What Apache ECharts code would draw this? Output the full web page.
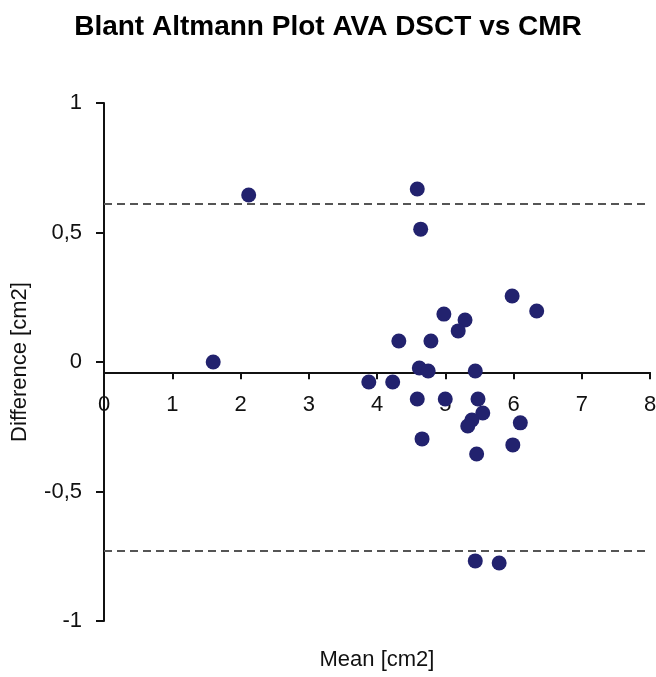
<!DOCTYPE html>
<html>
<head>
<meta charset="utf-8">
<script src="https://cdn.jsdelivr.net/npm/echarts@6/dist/echarts.min.js"></script>
<style>html,body{margin:0;padding:0;background:#fff}#c{width:656px;height:677px}</style>
</head>
<body>
<div id="c"></div>
<script>
var meanValues = [1.60, 2.12, 4.59, 4.64, 5.98, 6.34, 4.98, 5.29, 5.19, 4.32, 4.79, 4.62, 4.75, 5.44, 3.88, 4.23, 4.59, 5.00, 5.48, 5.55, 5.39, 5.33, 6.10, 4.66, 5.99, 5.46, 5.44, 5.79];
var diffValues = [0.00, 0.645, 0.668, 0.513, 0.255, 0.197, 0.185, 0.162, 0.12, 0.081, 0.081, -0.023, -0.035, -0.035, -0.077, -0.077, -0.143, -0.143, -0.143, -0.197, -0.224, -0.247, -0.235, -0.297, -0.32, -0.355, -0.768, -0.776];
var meanDiff = -0.04;
var upperLimit = 0.615;
var lowerLimit = -0.735;
var xTicks = [0, 1, 2, 3, 4, 5, 6, 7, 8];
var yTicks = ['-1', '-0,5', '0', '0,5', '1'];

var points = meanValues.map(function (m, i) { return [m, diffValues[i]]; });
var font = 'Liberation Sans, Arial, sans-serif';
var chart = echarts.init(document.getElementById('c'));
var hidden = { axisLine: { show: false }, axisTick: { show: false }, axisLabel: { show: false }, splitLine: { show: false } };

chart.setOption({
  animation: false,
  title: {
    text: 'Blant Altmann Plot AVA DSCT vs CMR',
    left: 'center', top: 8,
    textStyle: { fontFamily: font, fontWeight: 'bold', fontSize: 28, color: '#000' }
  },
  grid: [
    { left: 104, top: 103, width: 546, height: 518, containLabel: false, outerBoundsMode: 'none' },
    { left: 104, top: 372, width: 546, height: 1, containLabel: false, outerBoundsMode: 'none' }
  ],
  xAxis: [{
    gridIndex: 0, type: 'value', min: 0, max: 8, interval: 1,
    axisLine: { show: false }, axisTick: { show: false }, axisLabel: { show: false }, splitLine: { show: false },
    name: 'Mean [cm2]', nameLocation: 'middle', nameGap: 28,
    nameTextStyle: { fontFamily: font, fontSize: 22, color: '#111' }
  }, {
    gridIndex: 1, type: 'value', min: 0, max: 8, interval: 1, position: 'bottom',
    axisLine: { show: true, onZero: false, lineStyle: { color: '#111', width: 2 } },
    axisTick: { show: true, inside: false, length: 7, lineStyle: { color: '#111', width: 2 } },
    axisLabel: { fontFamily: font, fontSize: 22, color: '#111', margin: 22,
      formatter: function (v) { return xTicks.indexOf(v) >= 0 ? String(v) : ''; } },
    splitLine: { show: false }
  }],
  yAxis: [{
    gridIndex: 0, type: 'value', min: -1, max: 1, interval: 0.5,
    axisLine: { show: true, onZero: false, lineStyle: { color: '#111', width: 2 } },
    axisTick: { show: true, length: 8, lineStyle: { color: '#111', width: 2 } },
    axisLabel: { fontFamily: font, fontSize: 22, color: '#111', margin: 22,
      formatter: function (v) { var s = String(v).replace('.', ','); return yTicks.indexOf(s) >= 0 ? s : ''; } },
    splitLine: { show: false },
    name: 'Difference [cm2]', nameLocation: 'middle', nameGap: 73, nameRotate: 90,
    nameTextStyle: { fontFamily: font, fontSize: 22, color: '#111' }
  }, Object.assign({ gridIndex: 1, type: 'value', min: 0, max: 1 }, hidden)],
  series: [{
    type: 'scatter', xAxisIndex: 0, yAxisIndex: 0, data: points, symbol: 'circle', symbolSize: 15,
    itemStyle: { color: '#22226e', opacity: 1 },
    markLine: {
      silent: true, symbol: 'none', label: { show: false },
      lineStyle: { type: [8, 5], color: '#555', width: 2 },
      data: [{ yAxis: upperLimit }, { yAxis: lowerLimit }]
    }
  }]
});

// place the horizontal axis where the mean difference falls on the y scale
var axisY = chart.convertToPixel({ yAxisIndex: 0 }, meanDiff);
chart.setOption({ grid: [{}, { top: axisY - 1 }] });
</script>
</body>
</html>
